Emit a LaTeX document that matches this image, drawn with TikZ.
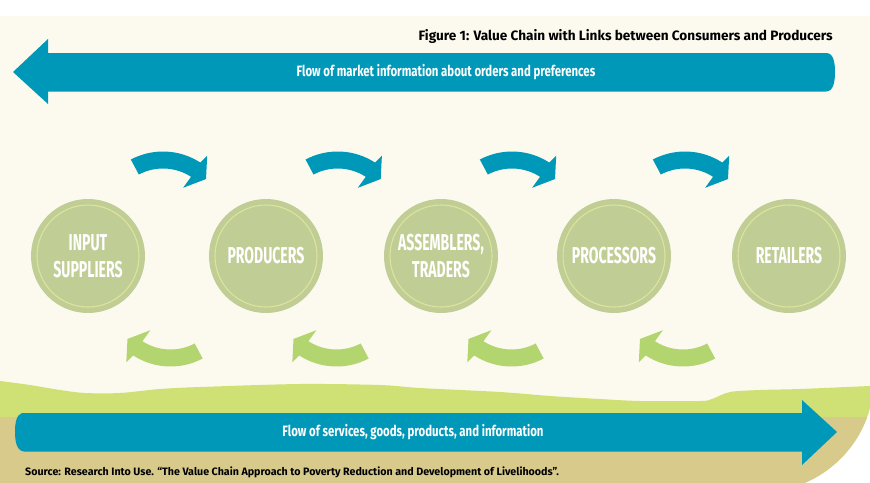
\documentclass[tikz,border=0pt]{standalone}
\usepackage{fontspec}
\setmainfont{Fira Sans}
\newfontfamily\circfont[FakeStretch=0.61]{Fira Sans}
\newfontfamily\flowfont[FakeStretch=0.76]{Fira Sans}
\definecolor{cream}{RGB}{252,250,238}
\definecolor{flowblue}{RGB}{0,152,184}
\definecolor{arcgreen}{RGB}{179,213,111}
\definecolor{circfill}{RGB}{192,206,149}
\definecolor{ringcol}{RGB}{220,228,156}
\definecolor{groundgreen}{RGB}{207,224,117}
\definecolor{groundtan}{RGB}{215,202,139}
\newcommand{\bendarrow}[2]{%
  \begin{scope}[#1]
    \fill[#2] (-118:68.5) arc[start angle=-118,end angle=-57,radius=68.5]
      -- (-55.5:78) -- (-43.6:59.4) -- (-58:38) -- (-57:51.5)
      arc[start angle=-57,end angle=-118,radius=51.5] -- cycle;
  \end{scope}}
\begin{document}
\begin{tikzpicture}[x=1pt,y=-1pt,
  stage/.style={circle, fill=circfill, minimum size=114pt, inner sep=0pt,
    text=white, align=center, font=\circfont\bfseries\fontsize{23}{27}\selectfont},
  ring/.style={draw=ringcol, line width=1.1pt},
  flowtext/.style={text=white, font=\flowfont\bfseries\fontsize{15}{18}\selectfont, inner sep=0pt},
  captext/.style={text=black, font=\bfseries\fontsize{13.6}{16}\selectfont, inner sep=0pt},
  srctext/.style={text=black, font=\bfseries\fontsize{10.7}{12}\selectfont, inner sep=0pt}]
\useasboundingbox (0,0) rectangle (870,482);
\fill[white] (0,0) rectangle (870,482);
% background
\begin{scope}
  \clip (0,16) -- (874,16) -- (874,378) arc[start angle=0,end angle=90,radius=114] -- (0,492) -- cycle;
  \fill[cream] (0,0) rectangle (880,500);
  \fill[groundgreen] plot[smooth] coordinates {(0,381) (30,385) (60,390) (85,393) (120,393) (160,389) (200,387) (300,384) (380,385) (420,388) (500,392) (550,396) (600,399) (640,401) (700,401) (712,399) (730,392) (760,390) (800,389) (870,386) (880,386)} -- (880,500) -- (0,500) -- cycle;
  \fill[groundtan] (0,417) rectangle (880,500);
\end{scope}
% top flow arrow
\fill[flowblue] (13,72) -- (48,39) -- (48,53) -- (826,53)
  .. controls (833,53) and (835,61) .. (835,72)
  .. controls (835,83) and (833,91.5) .. (826,91.5) -- (48,91.5) -- (48,104) -- cycle;
\node[flowtext] (topflow) at (446,72) {Flow of market information about orders and preferences};
% bottom flow arrow
\fill[flowblue] (837,432) -- (802,400) -- (802,413) -- (22,413)
  .. controls (16,415) and (15,424) .. (15,432)
  .. controls (15,442) and (17,451) .. (24,451.5) -- (802,451.5) -- (802,465) -- cycle;
\node[flowtext] (botflow) at (413,432) {Flow of services, goods, products, and information};
% title and source
\node[captext, anchor=east] (title) at (833,36) {Figure 1: Value Chain with Links between Consumers and Producers};
\node[srctext, anchor=west] (source) at (25,472) {Source: Research Into Use. “The Value Chain Approach to Poverty Reduction and Development of Livelihoods”.};
% stages
\node[stage] (input) at (88,256) {INPUT\\SUPPLIERS};
\node[stage] (producers) at (266,256) {PRODUCERS};
\node[stage] (assemblers) at (441,256) {ASSEMBLERS,\\TRADERS};
\node[stage] (processors) at (614,256) {PROCESSORS};
\node[stage] (retailers) at (789,256) {RETAILERS};
\foreach \n in {input,producers,assemblers,processors,retailers}
  \draw[ring] (\n.center) circle[radius=51];
% curved arrows
\bendarrow{shift={(163,220)}}{flowblue}
\bendarrow{shift={(337.7,220)}}{flowblue}
\bendarrow{shift={(512,220)}}{flowblue}
\bendarrow{shift={(685,220)}}{flowblue}
\bendarrow{shift={(170.5,298)},rotate=180}{arcgreen}
\bendarrow{shift={(336.5,298)},rotate=180}{arcgreen}
\bendarrow{shift={(511.5,298)},rotate=180}{arcgreen}
\bendarrow{shift={(683,298)},rotate=180}{arcgreen}
\end{tikzpicture}
\end{document}
